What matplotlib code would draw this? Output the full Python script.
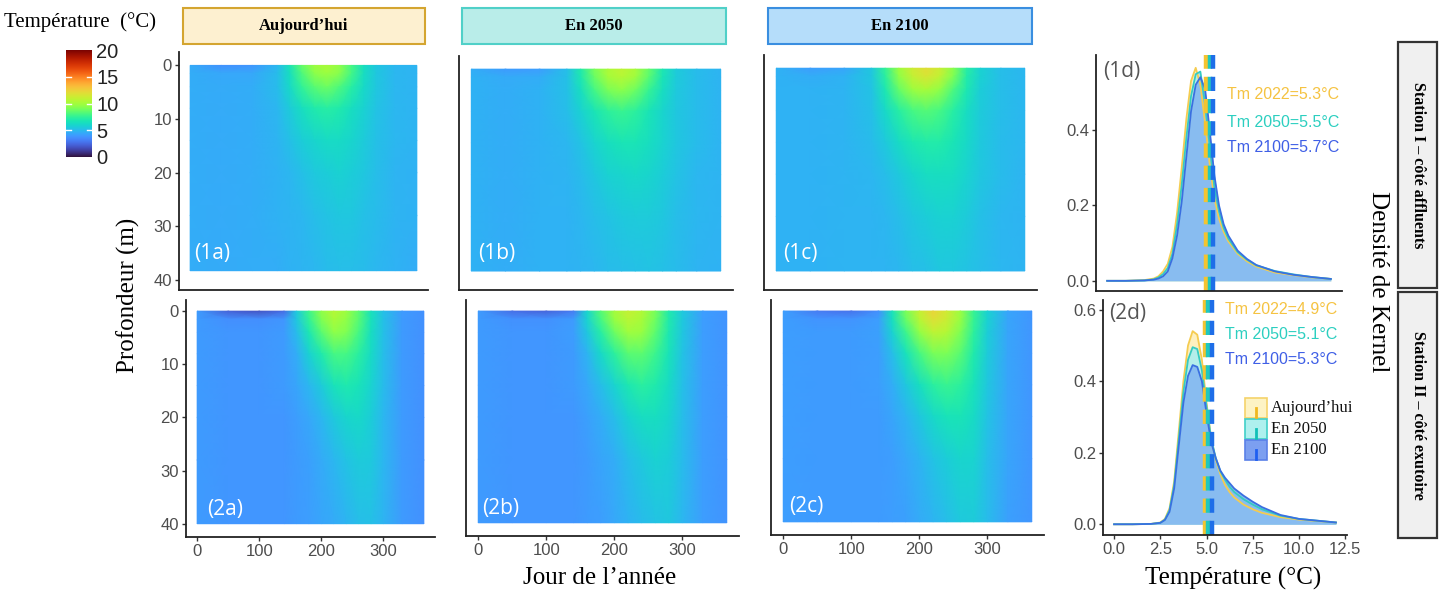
import numpy as np
import matplotlib
matplotlib.use("Agg")
import matplotlib.pyplot as plt
from matplotlib.patches import Rectangle

# ---- data ----
days = [0, 50, 100, 140, 160, 180, 200, 220, 240, 260, 280, 300, 330, 365]
depth_st1 = [0, 1.5, 4, 8, 14, 20, 28, 38.3]
depth_st2 = [0, 1.5, 4, 8, 14, 20, 28, 40]

temp_1a = [
    [4.5, 3.7, 3.9, 4.9, 6.6, 8.6, 9.8, 10.2, 9.6, 8.0, 6.4, 5.4, 4.9, 4.8],
    [4.6, 4.4, 4.4, 5.0, 6.4, 8.2, 9.4, 9.8, 9.3, 7.9, 6.3, 5.4, 4.9, 4.8],
    [4.6, 4.5, 4.6, 5.0, 6.1, 7.5, 8.4, 8.8, 8.2, 7.2, 6.1, 5.4, 4.9, 4.8],
    [4.6, 4.5, 4.6, 4.9, 5.6, 6.4, 7.0, 7.2, 7.0, 6.4, 5.8, 5.3, 4.9, 4.8],
    [4.6, 4.5, 4.6, 4.8, 5.2, 5.7, 6.0, 6.2, 6.2, 6.0, 5.6, 5.2, 4.9, 4.8],
    [4.6, 4.5, 4.6, 4.7, 4.9, 5.2, 5.5, 5.7, 5.8, 5.7, 5.4, 5.1, 4.8, 4.7],
    [4.6, 4.5, 4.6, 4.7, 4.8, 4.9, 5.1, 5.3, 5.4, 5.4, 5.2, 5.0, 4.8, 4.7],
    [4.6, 4.5, 4.6, 4.6, 4.7, 4.8, 4.9, 5.0, 5.1, 5.1, 5.0, 4.9, 4.7, 4.6]]
temp_1b = [
    [4.6, 4.0, 4.1, 5.1, 7.0, 9.0, 10.3, 10.8, 10.2, 8.6, 6.8, 5.6, 5.0, 4.8],
    [4.7, 4.5, 4.6, 5.2, 6.8, 8.7, 10.0, 10.5, 9.9, 8.4, 6.7, 5.6, 5.0, 4.8],
    [4.7, 4.6, 4.7, 5.2, 6.4, 7.9, 9.0, 9.4, 8.8, 7.6, 6.4, 5.5, 5.0, 4.8],
    [4.7, 4.6, 4.7, 5.1, 5.8, 6.7, 7.4, 7.7, 7.4, 6.7, 6.0, 5.4, 5.0, 4.8],
    [4.7, 4.6, 4.7, 4.9, 5.3, 5.9, 6.4, 6.7, 6.7, 6.4, 5.9, 5.4, 5.0, 4.8],
    [4.7, 4.6, 4.7, 4.8, 5.0, 5.4, 5.8, 6.0, 6.1, 6.0, 5.7, 5.3, 4.9, 4.8],
    [4.7, 4.6, 4.7, 4.7, 4.9, 5.1, 5.3, 5.5, 5.6, 5.6, 5.4, 5.1, 4.9, 4.8],
    [4.7, 4.6, 4.7, 4.7, 4.8, 4.9, 5.0, 5.1, 5.2, 5.3, 5.2, 5.0, 4.8, 4.7]]
temp_1c = [
    [4.7, 4.1, 4.3, 5.4, 7.5, 9.8, 11.3, 12.0, 11.2, 9.4, 7.2, 5.8, 5.1, 4.9],
    [4.7, 4.6, 4.7, 5.4, 7.3, 9.5, 11.0, 11.6, 10.9, 9.2, 7.1, 5.8, 5.1, 4.9],
    [4.7, 4.7, 4.8, 5.3, 6.8, 8.6, 9.8, 10.2, 9.6, 8.2, 6.8, 5.7, 5.1, 4.9],
    [4.7, 4.7, 4.8, 5.2, 6.1, 7.2, 8.0, 8.3, 8.0, 7.2, 6.3, 5.6, 5.1, 4.9],
    [4.7, 4.7, 4.8, 5.0, 5.5, 6.2, 6.8, 7.1, 7.1, 6.7, 6.1, 5.5, 5.0, 4.9],
    [4.7, 4.7, 4.8, 4.9, 5.1, 5.5, 6.0, 6.3, 6.4, 6.3, 5.9, 5.4, 5.0, 4.8],
    [4.7, 4.7, 4.8, 4.8, 4.9, 5.1, 5.4, 5.7, 5.8, 5.8, 5.6, 5.2, 4.9, 4.8],
    [4.7, 4.7, 4.8, 4.8, 4.8, 4.9, 5.1, 5.2, 5.4, 5.4, 5.3, 5.1, 4.9, 4.8]]
temp_2a = [
    [4.0, 2.2, 1.8, 2.5, 5.5, 7.8, 9.5, 10.5, 9.8, 8.5, 6.5, 5.2, 4.0, 3.7],
    [4.0, 3.6, 3.6, 3.9, 5.4, 7.5, 9.2, 10.2, 9.6, 8.4, 6.5, 5.2, 4.0, 3.7],
    [4.0, 3.9, 3.9, 4.0, 5.0, 6.8, 8.4, 9.5, 9.2, 8.0, 6.4, 5.2, 4.0, 3.7],
    [4.0, 3.9, 3.9, 4.0, 4.6, 5.8, 7.0, 8.0, 8.0, 7.3, 6.2, 5.1, 4.0, 3.7],
    [4.0, 3.9, 3.9, 4.0, 4.3, 4.9, 5.6, 6.5, 6.9, 6.6, 5.9, 5.0, 4.0, 3.7],
    [4.0, 3.9, 3.9, 3.9, 4.1, 4.4, 4.9, 5.5, 6.0, 6.1, 5.7, 4.9, 4.0, 3.7],
    [4.0, 3.9, 3.9, 3.9, 4.0, 4.2, 4.5, 4.9, 5.3, 5.6, 5.5, 4.9, 4.0, 3.7],
    [4.0, 3.9, 3.9, 3.9, 4.0, 4.1, 4.3, 4.5, 4.8, 5.1, 5.2, 4.8, 4.0, 3.7]]
temp_2b = [
    [4.0, 2.6, 2.3, 3.0, 6.0, 8.3, 10.0, 11.0, 10.4, 9.0, 7.0, 5.5, 4.1, 3.8],
    [4.0, 3.7, 3.7, 4.0, 5.9, 8.0, 9.7, 10.7, 10.2, 8.9, 7.0, 5.5, 4.1, 3.8],
    [4.0, 3.9, 3.9, 4.1, 5.4, 7.2, 8.8, 9.9, 9.7, 8.5, 6.8, 5.4, 4.1, 3.8],
    [4.0, 3.9, 3.9, 4.0, 4.8, 6.1, 7.4, 8.4, 8.5, 7.8, 6.6, 5.3, 4.1, 3.8],
    [4.0, 3.9, 3.9, 4.0, 4.4, 5.1, 5.9, 6.8, 7.3, 7.0, 6.2, 5.2, 4.1, 3.8],
    [4.0, 3.9, 3.9, 3.9, 4.2, 4.6, 5.1, 5.8, 6.3, 6.4, 6.0, 5.1, 4.1, 3.8],
    [4.0, 3.9, 3.9, 3.9, 4.0, 4.3, 4.6, 5.1, 5.5, 5.8, 5.7, 5.0, 4.1, 3.8],
    [4.0, 3.9, 3.9, 3.9, 4.0, 4.1, 4.4, 4.7, 5.0, 5.3, 5.4, 4.9, 4.1, 3.8]]
temp_2c = [
    [4.1, 3.0, 2.8, 3.6, 6.5, 9.0, 11.0, 12.3, 11.4, 9.8, 7.6, 5.8, 4.3, 3.9],
    [4.1, 3.8, 3.8, 4.1, 6.4, 8.7, 10.7, 11.9, 11.2, 9.7, 7.6, 5.8, 4.3, 3.9],
    [4.1, 4.0, 4.0, 4.2, 5.8, 7.8, 9.6, 10.8, 10.5, 9.2, 7.4, 5.7, 4.3, 3.9],
    [4.1, 4.0, 4.0, 4.1, 5.1, 6.5, 8.0, 9.0, 9.1, 8.4, 7.0, 5.6, 4.3, 3.9],
    [4.1, 4.0, 4.0, 4.1, 4.6, 5.4, 6.4, 7.3, 7.7, 7.4, 6.5, 5.4, 4.3, 3.9],
    [4.1, 4.0, 4.0, 4.0, 4.3, 4.8, 5.4, 6.1, 6.6, 6.7, 6.2, 5.3, 4.3, 3.9],
    [4.1, 4.0, 4.0, 4.0, 4.1, 4.4, 4.8, 5.3, 5.7, 6.0, 5.9, 5.1, 4.3, 3.9],
    [4.1, 4.0, 4.0, 4.0, 4.1, 4.2, 4.5, 4.8, 5.1, 5.5, 5.6, 5.0, 4.2, 3.9]]

# kernel density curves
kde_temp = [0, 1, 2, 2.5, 2.75, 3, 3.25, 3.5, 3.75, 4, 4.25, 4.5, 4.75, 5,
            5.25, 5.5, 5.75, 6, 6.25, 6.5, 7, 7.5, 8, 9, 10, 11, 12]
kde_1_2022 = [0, 0, 0.002, 0.006, 0.012, 0.025, 0.045, 0.09, 0.18, 0.30, 0.43, 0.53, 0.565, 0.52,
              0.42, 0.31, 0.22, 0.165, 0.13, 0.105, 0.072, 0.052, 0.038, 0.022, 0.015, 0.009, 0.005]
kde_1_2050 = [0, 0, 0.001, 0.004, 0.009, 0.018, 0.034, 0.072, 0.15, 0.255, 0.38, 0.49, 0.548, 0.555,
              0.47, 0.36, 0.25, 0.185, 0.14, 0.112, 0.076, 0.056, 0.041, 0.026, 0.017, 0.01, 0.005]
kde_1_2100 = [0, 0, 0.001, 0.003, 0.006, 0.012, 0.025, 0.06, 0.12, 0.21, 0.33, 0.45, 0.52, 0.54,
              0.51, 0.40, 0.28, 0.20, 0.15, 0.12, 0.08, 0.058, 0.042, 0.025, 0.016, 0.01, 0.005]
kde_2_2022 = [0, 0, 0.001, 0.005, 0.015, 0.045, 0.12, 0.26, 0.40, 0.50, 0.54, 0.53, 0.46, 0.34,
              0.24, 0.18, 0.14, 0.11, 0.09, 0.075, 0.055, 0.042, 0.032, 0.02, 0.013, 0.009, 0.005]
kde_2_2050 = [0, 0, 0.001, 0.004, 0.013, 0.04, 0.11, 0.24, 0.37, 0.46, 0.495, 0.49, 0.43, 0.33,
              0.24, 0.185, 0.148, 0.125, 0.105, 0.09, 0.07, 0.055, 0.042, 0.024, 0.015, 0.01, 0.005]
kde_2_2100 = [0, 0, 0.001, 0.004, 0.012, 0.035, 0.10, 0.22, 0.34, 0.415, 0.445, 0.44, 0.40, 0.31,
              0.23, 0.185, 0.15, 0.13, 0.115, 0.10, 0.08, 0.063, 0.048, 0.026, 0.015, 0.01, 0.005]

tm_station1 = [5.3, 5.5, 5.7]
tm_station2 = [4.9, 5.1, 5.3]
scenario_years = ["2022", "2050", "2100"]
scenario_names = ["Aujourd\u2019hui", "En 2050", "En 2100"]

# ---- styling ----
W, H = 1440, 594
SERIF = ["Liberation Serif", "DejaVu Serif"]
plt.rcParams["font.family"] = ["Liberation Sans", "DejaVu Sans"]
TICK_COL = "#4d4d4d"
line_cols = ["#f4c430", "#20c8be", "#1e6ee8"]
curve_cols = ["#f5cc50", "#35cbc2", "#3a6fe0"]
fill_cols = ["#fdf0c0", "#b4eeea", "#88bcf0"]
text_cols = ["#f5c342", "#2ccfc0", "#3f5fe6"]

fig = plt.figure(figsize=(14.4, 5.94), dpi=100)


def add_ax(l, t, r, b):
    return fig.add_axes([l / W, 1 - b / H, (r - l) / W, (b - t) / H])


def fx(x):
    return x / W


def fy(y):
    return 1 - y / H


def style_axes(ax):
    for s in ["top", "right"]:
        ax.spines[s].set_visible(False)
    for s in ["left", "bottom"]:
        ax.spines[s].set_linewidth(1.3)
        ax.spines[s].set_color("#222222")
    ax.tick_params(length=3, width=1, color="#333333", labelcolor=TICK_COL,
                   labelsize=12, pad=2)


def heat(geom, field, depths, label, ylim, lab_pos, show_x, show_y):
    ax = add_ax(*geom)
    ax.pcolormesh(days, depths, np.array(field), shading="gouraud",
                  cmap="turbo", vmin=0, vmax=20)
    ax.set_xlim(-18, 383)
    ax.set_ylim(ylim)
    style_axes(ax)
    if show_x:
        ax.set_xticks([0, 100, 200, 300])
    else:
        ax.set_xticks([])
    if show_y:
        ax.set_yticks([0, 10, 20, 30, 40])
    else:
        ax.set_yticks([])
    ax.text(lab_pos[0], lab_pos[1], label, color="white", fontsize=15,
            va="center", ha="left", family=["Open Sans", "DejaVu Sans"])
    return ax


top_ylim = (41.9, -2.5)
bot_ylim = (42.5, -2.1)
heat((179, 52, 428, 290), temp_1a, depth_st1, "(1a)", top_ylim, (6, 35), False, True)
heat((459, 56, 733, 290), temp_1b, depth_st1, "(1b)", top_ylim, (10, 35), False, False)
heat((764, 55, 1037, 290), temp_1c, depth_st1, "(1c)", top_ylim, (10, 35), False, False)
heat((186, 300, 435, 537), temp_2a, depth_st2, "(2a)", bot_ylim, (16, 37.3), True, True)
heat((466, 300, 739, 536), temp_2b, depth_st2, "(2b)", bot_ylim, (6, 37.3), True, False)
heat((771, 300, 1044, 535), temp_2c, depth_st2, "(2c)", bot_ylim, (8, 37), True, False)


def density(geom, curves, tms, label, ylim, yticks, show_x, lab_xy, tm_x, tm_ys):
    ax = add_ax(*geom)
    for c, fc in zip(curves, fill_cols):
        ax.fill_between(kde_temp, 0, c, color=fc, lw=0)
    for c, cc in zip(curves, curve_cols):
        ax.plot(kde_temp, c, color=cc, lw=1.3)
    for tm, lc in zip(tms, line_cols):
        ax.axvline(tm, color=lc, lw=3.2, dashes=(3.2, 1.8))
    ax.set_xlim(-0.6, 12.6)
    ax.set_ylim(ylim)
    style_axes(ax)
    ax.set_yticks(yticks)
    ax.set_yticklabels([f"{v:.1f}" for v in yticks])
    if show_x:
        ax.set_xticks([0, 2.5, 5, 7.5, 10, 12.5])
        ax.set_xticklabels(["0.0", "2.5", "5.0", "7.5", "10.0", "12.5"])
    else:
        ax.set_xticks([])
    ax.text(lab_xy[0], lab_xy[1], label, color="#555555", fontsize=15,
            va="center", ha="left", family=["Open Sans", "DejaVu Sans"])
    for yr, tm, tc, ty in zip(scenario_years, tms, text_cols, tm_ys):
        ax.text(tm_x, ty, f"Tm {yr}={tm}\u00b0C", color=tc, fontsize=11.5,
                va="center", ha="left")
    return ax


density((1096, 55, 1342, 291), [kde_1_2022, kde_1_2050, kde_1_2100], tm_station1,
        "(1d)", (-0.027, 0.599), [0.0, 0.2, 0.4], False, (-0.2, 0.555),
        6.45, [0.493, 0.42, 0.354])
density((1103, 300, 1347, 535), [kde_2_2022, kde_2_2050, kde_2_2100], tm_station2,
        "(2d)", (-0.03, 0.627), [0.0, 0.2, 0.4, 0.6], True, (-0.25, 0.59),
        6.0, [0.60, 0.53, 0.46])

# legend of 2d, drawn by hand
leg_face = ["#fdf3c4", "#aef0ee", "#7c9ff0"]
leg_edge = ["#f5d36a", "#40d0c8", "#5a80e8"]
leg_tick = ["#f0b820", "#10c0b8", "#1e5ef0"]
for i, name in enumerate(scenario_names):
    y0 = 398 + i * 21
    fig.add_artist(Rectangle((fx(1245), fy(y0 + 20)), 22 / W, 20 / H,
                             transform=fig.transFigure, fc=leg_face[i],
                             ec=leg_edge[i], lw=1.2))
    fig.add_artist(plt.Line2D([fx(1256), fx(1256)], [fy(y0 + 19), fy(y0 + 10)],
                              transform=fig.transFigure, color=leg_tick[i], lw=2))
    fig.text(fx(1271), fy(y0 + 10), name, family=SERIF, fontsize=12,
             va="center", ha="left", color="#111111")

# colour bar
cax = add_ax(66, 50, 92, 157)
cax.imshow(np.linspace(0, 20, 256)[:, None], extent=[0, 1, 0, 20], origin="lower",
           aspect="auto", cmap="turbo", vmin=0, vmax=20)
for v in [5, 10, 15]:
    cax.plot([0, 0.2], [v, v], color="white", lw=1)
    cax.plot([0.8, 1], [v, v], color="white", lw=1)
cax.set_xlim(0, 1)
cax.set_ylim(0, 20)
cax.set_xticks([])
cax.yaxis.tick_right()
cax.set_yticks([0, 5, 10, 15, 20])
cax.tick_params(length=0, labelsize=14.5, labelcolor="#222222", pad=3)
for s in cax.spines.values():
    s.set_visible(False)
fig.text(fx(4), fy(22), "Temp\u00e9rature  (\u00b0C)", family=SERIF, fontsize=15,
         va="center", ha="left")

# header boxes
headers = [(183, 425, "#fdf0d0", "#d4a530"), (462, 726, "#b9ede9", "#50d0c8"),
           (768, 1032, "#b5ddfa", "#3a8ee0")]
for (l, r, fc, ec), name in zip(headers, scenario_names):
    fig.add_artist(Rectangle((fx(l), fy(44)), (r - l) / W, 36 / H,
                             transform=fig.transFigure, fc=fc, ec=ec, lw=1.5))
    fig.text(fx((l + r) / 2), fy(26), name, family=SERIF, fontsize=12,
             weight="bold", ha="center", va="center")

# station strips
strips = [(42, 288, "Station I \u2013 c\u00f4t\u00e9 affluents"),
          (292, 538, "Station II \u2013 c\u00f4t\u00e9 exutoire")]
for t, b, name in strips:
    fig.add_artist(Rectangle((fx(1398), fy(b)), 39 / W, (b - t) / H,
                             transform=fig.transFigure, fc="#f0f0f0",
                             ec="#333333", lw=1.6))
    fig.text(fx(1417.5), fy((t + b) / 2), name, family=SERIF, fontsize=11.5,
             weight="bold", rotation=270, ha="center", va="center")

# axis titles
fig.text(fx(128), fy(295), "Profondeur (m)", family=SERIF, fontsize=18,
         rotation=90, ha="center", va="center")
fig.text(fx(600), fy(578), "Jour de l\u2019ann\u00e9e", family=SERIF, fontsize=18,
         ha="center", va="center")
fig.text(fx(1233), fy(578), "Temp\u00e9rature (\u00b0C)", family=SERIF, fontsize=18,
         ha="center", va="center")
fig.text(fx(1378), fy(282), "Densit\u00e9 de Kernel", family=SERIF, fontsize=18,
         rotation=270, ha="center", va="center")

fig.savefig("out.png", dpi=100, facecolor="white")
